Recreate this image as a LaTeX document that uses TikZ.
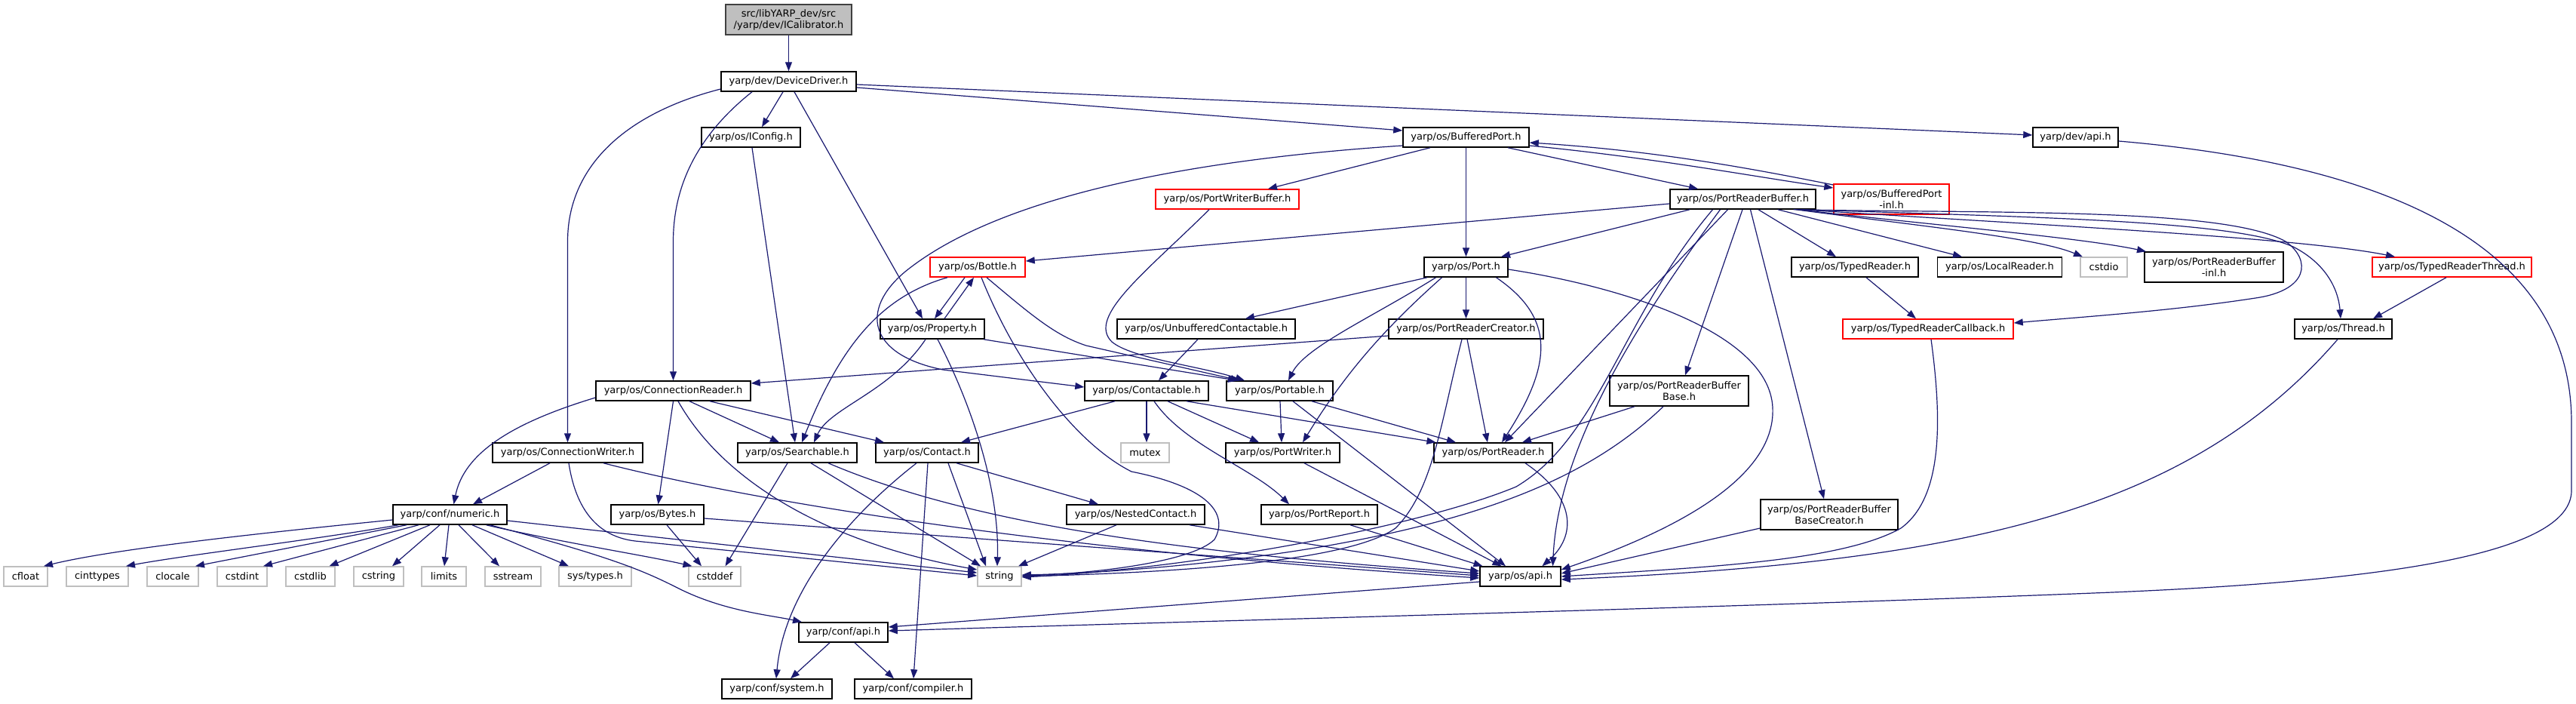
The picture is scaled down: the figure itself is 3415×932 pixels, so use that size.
\documentclass[tikz,border=0pt]{standalone}
\usepackage{fontspec}
\newfontfamily\dejavu{DejaVu Sans}
\usetikzlibrary{arrows.meta}
\definecolor{edgeblue}{HTML}{191970}
\definecolor{sysgray}{HTML}{BFBFBF}
\definecolor{rootgray}{HTML}{BFBFBF}
\newcommand\nodefont{\dejavu\fontsize{13}{15}\selectfont}
\tikzset{
  nb/.style={draw=black, fill=white, line width=1.5pt, inner sep=0pt, align=center, font=\nodefont, minimum height=26pt},
  nbred/.style={nb, draw=red},
  nbsys/.style={nb, draw=sysgray},
  nbroot/.style={nb, fill=rootgray, draw=black!75},
  e/.style={draw=edgeblue, line width=1.2pt, -{Triangle[length=12pt,width=9pt]}},
}
\begin{document}
\begin{tikzpicture}[x=1pt,y=-1pt]
\useasboundingbox[fill=white] (0,0) rectangle (3415,932);
% nodes
\node[nbroot, minimum width=167pt, minimum height=40pt] (icalib) at (1045.5,26) {src/libYARP\_dev/src\\/yarp/dev/ICalibrator.h};
\node[nb, minimum width=179pt] (devdrv) at (1045.5,108) {yarp/dev/DeviceDriver.h};
\node[nb, minimum width=131pt] (iconfig) at (995.5,182) {yarp/os/IConfig.h};
\node[nb, minimum width=167pt] (bport) at (1943.5,182) {yarp/os/BufferedPort.h};
\node[nb, minimum width=113pt] (devapi) at (2751.5,182) {yarp/dev/api.h};
\node[nbred, minimum width=190pt] (pwbuf) at (1627,264) {yarp/os/PortWriterBuffer.h};
\node[nb, minimum width=193pt] (prbuf) at (2310.5,264) {yarp/os/PortReaderBuffer.h};
\node[nbred, minimum width=153pt, minimum height=40pt] (bpinl) at (2507.5,264) {yarp/os/BufferedPort\\-inl.h};
\node[nbred, minimum width=126pt] (bottle) at (1296,354) {yarp/os/Bottle.h};
\node[nb, minimum width=111pt] (port) at (1943.5,354) {yarp/os/Port.h};
\node[nb, minimum width=168pt] (treader) at (2459,354) {yarp/os/TypedReader.h};
\node[nb, minimum width=165pt] (lreader) at (2651,354) {yarp/os/LocalReader.h};
\node[nbsys, minimum width=62pt] (cstdio) at (2789,354) {cstdio};
\node[nb, minimum width=184pt, minimum height=40pt] (prbinl) at (2935,354) {yarp/os/PortReaderBuffer\\-inl.h};
\node[nbred, minimum width=211pt] (trthread) at (3250.5,354) {yarp/os/TypedReaderThread.h};
\node[nb, minimum width=138pt] (property) at (1236,436) {yarp/os/Property.h};
\node[nb, minimum width=236pt] (unbuf) at (1599,436) {yarp/os/UnbufferedContactable.h};
\node[nb, minimum width=205pt] (prcreator) at (1943.5,436) {yarp/os/PortReaderCreator.h};
\node[nbred, minimum width=226pt] (trcallback) at (2556,436) {yarp/os/TypedReaderCallback.h};
\node[nb, minimum width=129pt] (thread) at (3106.5,436) {yarp/os/Thread.h};
\node[nb, minimum width=205pt] (connreader) at (892.5,518) {yarp/os/ConnectionReader.h};
\node[nb, minimum width=164pt] (contactable) at (1520,518) {yarp/os/Contactable.h};
\node[nb, minimum width=141pt] (portable) at (1696.5,518) {yarp/os/Portable.h};
\node[nb, minimum width=184pt, minimum height=40pt] (prbbase) at (2226,518) {yarp/os/PortReaderBuffer\\Base.h};
\node[nb, minimum width=199pt] (connwriter) at (752.5,600) {yarp/os/ConnectionWriter.h};
\node[nb, minimum width=158pt] (searchable) at (1057,600) {yarp/os/Searchable.h};
\node[nb, minimum width=136pt] (contact) at (1229,600) {yarp/os/Contact.h};
\node[nbsys, minimum width=64pt] (mutex) at (1518,600) {mutex};
\node[nb, minimum width=151pt] (portwriter) at (1700.5,600) {yarp/os/PortWriter.h};
\node[nb, minimum width=157pt] (portreader) at (1979.5,600) {yarp/os/PortReader.h};
\node[nb, minimum width=151pt] (numeric) at (596.5,682) {yarp/conf/numeric.h};
\node[nb, minimum width=123pt] (bytes) at (871.5,682) {yarp/os/Bytes.h};
\node[nb, minimum width=183pt] (nested) at (1505.5,682) {yarp/os/NestedContact.h};
\node[nb, minimum width=154pt] (portreport) at (1749,682) {yarp/os/PortReport.h};
\node[nb, minimum width=182pt, minimum height=40pt] (prbbcreator) at (2425,682) {yarp/os/PortReaderBuffer\\BaseCreator.h};
\node[nbsys, minimum width=58pt] (cfloat) at (34,764) {cfloat};
\node[nbsys, minimum width=82pt] (cinttypes) at (129,764) {cinttypes};
\node[nbsys, minimum width=68pt] (clocale) at (229,764) {clocale};
\node[nbsys, minimum width=66pt] (cstdint) at (321,764) {cstdint};
\node[nbsys, minimum width=65pt] (cstdlib) at (411.5,764) {cstdlib};
\node[nbsys, minimum width=66pt] (cstring) at (502,764) {cstring};
\node[nbsys, minimum width=59pt] (limits) at (588.5,764) {limits};
\node[nbsys, minimum width=74pt] (sstream) at (680,764) {sstream};
\node[nbsys, minimum width=96pt] (systypes) at (789,764) {sys/types.h};
\node[nbsys, minimum width=69pt] (cstddef) at (947.5,764) {cstddef};
\node[nbsys, minimum width=58pt] (string) at (1325,764) {string};
\node[nb, minimum width=107pt] (osapi) at (2015.5,764) {yarp/os/api.h};
\node[nb, minimum width=118pt] (confapi) at (1118,838) {yarp/conf/api.h};
\node[nb, minimum width=146pt] (confsystem) at (1030,913) {yarp/conf/system.h};
\node[nb, minimum width=155pt] (confcompiler) at (1210.5,913) {yarp/conf/compiler.h};
% edges
\draw[e] (icalib.south) -- (devdrv.north);
\draw[e] ([xshift=-7.5pt]devdrv.south) -- ([xshift=14.5pt]iconfig.north);
\draw[e] ([yshift=-8pt]devdrv.east) -- ([yshift=9pt]bport.west);
\draw[e] ([yshift=-4pt]devdrv.east) -- ([yshift=3pt]devapi.west);
\draw[e] ([yshift=-10pt]devdrv.west) .. controls (830,150) and (752.5,220) .. (752.5,320) -- (connwriter.north);
\draw[e] ([xshift=-48.5pt]devdrv.south) .. controls (930,175) and (892.5,240) .. (892.5,320) -- (connreader.north);
\draw[e] ([xshift=7.5pt]devdrv.south) -- ([xshift=-13pt]property.north);
\draw[e] ([xshift=1.5pt]iconfig.south) -- ([xshift=-3pt]searchable.north);
\draw[e] ([xshift=-47.5pt]bport.south) -- ([xshift=54pt]pwbuf.north);
\draw[e] (bport.south) -- (port.north);
\draw[e] ([xshift=55.5pt]bport.south) -- ([xshift=-59.5pt]prbuf.north);
\draw[e] ([yshift=-11pt]bport.east) .. controls (2200,210) and (2330,235) .. ([yshift=15pt]bpinl.west);
\draw[e] ([yshift=19pt]bpinl.west) .. controls (2330,225) and (2200,200) .. ([yshift=-7pt]bport.east);
\draw[e] ([yshift=-11pt]bport.west) .. controls (1600,210) and (1330,255) .. (1200,360) .. controls (1140,410) and (1150,470) .. (1250,490) -- ([yshift=5pt]contactable.west);
\draw[e] ([xshift=-24pt]pwbuf.south) .. controls (1520,360) and (1440,420) .. (1474,453) .. controls (1500,475) and (1590,485) .. ([xshift=-46.5pt]portable.north);
\draw[e] ([yshift=-6pt]prbuf.west) -- ([yshift=8pt]bottle.east);
\draw[e] ([xshift=-70.5pt]prbuf.south) -- ([xshift=46.5pt]port.north);
\draw[e] ([xshift=20.5pt]prbuf.south) -- ([xshift=-25pt]treader.north);
\draw[e] ([xshift=46.5pt]prbuf.south) -- ([xshift=-50pt]lreader.north);
\draw[e] ([xshift=70pt]prbuf.south) .. controls (2550,300) and (2700,315) .. ([xshift=-28pt]cstdio.north);
\draw[e] ([xshift=73pt]prbuf.south) .. controls (2560,298) and (2760,315) .. ([xshift=-90pt]prbinl.north);
\draw[e] ([xshift=76pt]prbuf.south) .. controls (2700,298) and (3050,315) .. ([xshift=-75.5pt]trthread.north);
\draw[e] ([xshift=67pt]prbuf.south) .. controls (2650,283) and (2950,275) .. (3030,320) .. controls (3065,345) and (3060,385) .. (2990,395) .. controls (2880,412) and (2760,420) .. ([yshift=8pt]trcallback.east);
\draw[e] ([xshift=78pt]prbuf.south) .. controls (2700,288) and (2960,292) .. (3040,327) .. controls (3085,350) and (3100,385) .. ([xshift=-3.5pt]thread.north);
\draw[e] ([xshift=-0.5pt]prbuf.south) -- ([xshift=8pt]prbbase.north);
\draw[e] ([xshift=10pt]prbuf.south) -- ([xshift=-7pt]prbbcreator.north);
\draw[e] ([xshift=-20pt]prbuf.south) -- ([xshift=15.5pt]portreader.north);
\draw[e] ([xshift=-40pt]prbuf.south) .. controls (2150,420) and (2120,580) .. (2010,645) .. controls (1890,695) and (1600,752) .. ([yshift=-1pt]string.east);
\draw[e] ([xshift=-30pt]prbuf.south) .. controls (2160,440) and (2065,600) .. ([xshift=43pt]osapi.north);
\draw[e] ([xshift=-17pt]bottle.south) -- ([xshift=3pt]property.north);
\draw[e] ([xshift=16pt]property.north) -- ([xshift=-5pt]bottle.south);
\draw[e] ([xshift=-40pt]bottle.south) .. controls (1160,395) and (1110,470) .. ([xshift=6pt]searchable.north);
\draw[e] ([xshift=12pt]bottle.south) .. controls (1370,420) and (1400,445) .. (1440,458) -- ([xshift=-53pt]portable.north);
\draw[e] ([xshift=5pt]bottle.south) .. controls (1350,490) and (1430,590) .. (1500,625) .. controls (1600,645) and (1630,680) .. (1610,715) .. controls (1580,745) and (1450,760) .. ([yshift=1pt]string.east);
\draw[e] ([xshift=-9pt]property.south) .. controls (1180,520) and (1100,540) .. ([xshift=22pt]searchable.north);
\draw[e] ([xshift=68pt]property.south) -- ([xshift=-56.5pt]portable.north);
\draw[e] ([xshift=7pt]property.south) .. controls (1290,540) and (1325,650) .. ([xshift=-3pt]string.north);
\draw[e] ([xshift=-51.5pt]port.south) -- ([xshift=52pt]unbuf.north);
\draw[e] (port.south) -- (prcreator.north);
\draw[e] ([xshift=-40pt]port.south) .. controls (1820,420) and (1730,460) .. ([xshift=11.5pt]portable.north);
\draw[e] ([xshift=-32pt]port.south) .. controls (1830,440) and (1780,500) .. ([xshift=26.5pt]portwriter.north);
\draw[e] ([xshift=40pt]port.south) .. controls (2060,420) and (2060,480) .. ([xshift=11.5pt]portreader.north);
\draw[e] ([yshift=-3pt]port.east) .. controls (2150,380) and (2345,440) .. (2350,540) .. controls (2355,640) and (2200,710) .. ([yshift=9pt]osapi.east);
\draw[e] ([xshift=-11pt]unbuf.south) -- ([xshift=16pt]contactable.north);
\draw[e] ([yshift=-9pt]prcreator.west) -- ([yshift=10pt]connreader.east);
\draw[e] ([xshift=1.5pt]prcreator.south) -- ([xshift=-7.5pt]portreader.north);
\draw[e] ([xshift=-5.5pt]prcreator.south) .. controls (1910,560) and (1900,650) .. (1850,700) .. controls (1780,750) and (1500,760) .. (string.east);
\draw[e] ([xshift=15pt]treader.south) -- ([xshift=-16pt]trcallback.north);
\draw[e] ([xshift=-7.5pt]trthread.south) -- ([xshift=39.5pt]thread.north);
\draw[e] ([xshift=-42pt]contactable.south) -- ([xshift=45pt]contact.north);
\draw[e] (contactable.south) -- ([xshift=2pt]mutex.north);
\draw[e] ([xshift=28pt]contactable.south) -- ([xshift=-31.5pt]portwriter.north);
\draw[e] ([xshift=53pt]contactable.south) -- ([xshift=-76pt]portreader.north);
\draw[e] ([xshift=10pt]contactable.south) .. controls (1570,590) and (1660,620) .. ([xshift=-40pt]portreport.north);
\draw[e] ([xshift=0.5pt]portable.south) -- ([xshift=-1.5pt]portwriter.north);
\draw[e] ([xshift=42.5pt]portable.south) -- ([xshift=-49.5pt]portreader.north);
\draw[e] ([xshift=17.5pt]portable.south) -- ([xshift=-19.5pt]osapi.north);
\draw[e] ([xshift=28.5pt]portwriter.south) -- ([xshift=-25pt]osapi.north);
\draw[e] ([xshift=42.5pt]portreader.south) .. controls (2090,660) and (2090,710) .. ([xshift=29pt]osapi.north);
\draw[e] ([xshift=41pt]portreport.south) -- ([xshift=-50pt]osapi.north);
\draw[e] ([xshift=71.5pt]nested.south) -- ([yshift=7pt]osapi.west);
\draw[e] ([xshift=-25.5pt]nested.south) -- ([xshift=25pt]string.north);
\draw[e] ([xshift=-59pt]prbbase.south) -- ([xshift=38.5pt]portreader.north);
\draw[e] ([xshift=-21pt]prbbase.south) .. controls (2100,640) and (1950,690) .. (1750,725) .. controls (1600,750) and (1450,760) .. ([yshift=2pt]string.east);
\draw[e] ([yshift=-18pt]prbbcreator.west) -- ([yshift=4pt]osapi.east);
\draw[e] ([xshift=4pt]trcallback.south) .. controls (2575,560) and (2575,660) .. (2520,700) .. controls (2440,745) and (2250,752) .. (osapi.east);
\draw[e] ([xshift=-7.5pt]thread.south) .. controls (2900,680) and (2600,745) .. ([yshift=-4pt]osapi.east);
\draw[e] ([yshift=-5pt]devapi.east) .. controls (3250,225) and (3409,370) .. (3409,560) -- (3409,650) .. controls (3409,735) and (3160,770) .. (2800,785) .. controls (2300,805) and (1700,820) .. ([yshift=2pt]confapi.east);
\draw[e] ([yshift=-7pt]osapi.west) -- ([yshift=7pt]confapi.east);
\draw[e] ([xshift=-18pt]confapi.south) -- ([xshift=18pt]confsystem.north);
\draw[e] ([xshift=15pt]confapi.south) -- ([xshift=-25.5pt]confcompiler.north);
\draw[e] ([yshift=-7pt]numeric.west) .. controls (330,708) and (150,728) .. ([xshift=24pt]cfloat.north);
\draw[e] ([xshift=-68.5pt]numeric.south) .. controls (420,715) and (250,735) .. ([xshift=38pt]cinttypes.north);
\draw[e] ([xshift=-57.5pt]numeric.south) -- ([xshift=30pt]clocale.north);
\draw[e] ([xshift=-41.5pt]numeric.south) -- ([xshift=28pt]cstdint.north);
\draw[e] ([xshift=-26.5pt]numeric.south) -- ([xshift=25pt]cstdlib.north);
\draw[e] ([xshift=-13.5pt]numeric.south) -- ([xshift=18pt]cstring.north);
\draw[e] ([xshift=-1.5pt]numeric.south) -- ([xshift=0.5pt]limits.north);
\draw[e] ([xshift=11.5pt]numeric.south) -- ([xshift=-18pt]sstream.north);
\draw[e] ([xshift=29.5pt]numeric.south) -- ([xshift=-35pt]systypes.north);
\draw[e] ([xshift=48pt]numeric.south) .. controls (750,720) and (850,735) .. ([xshift=-30pt]cstddef.north);
\draw[e] ([xshift=53pt]numeric.south) .. controls (820,740) and (860,760) .. (900,780) .. controls (960,810) and (1020,815) .. ([xshift=-55pt]confapi.north);
\draw[e] ([yshift=-8pt]numeric.east) -- ([yshift=5pt]string.west);
\draw[e] ([yshift=-9pt]connreader.west) .. controls (680,560) and (615,600) .. ([xshift=5pt]numeric.north);
\draw[e] (connreader.south) -- ([xshift=1pt]bytes.north);
\draw[e] ([xshift=21.5pt]connreader.south) -- ([xshift=-24pt]searchable.north);
\draw[e] ([xshift=48.5pt]connreader.south) -- ([xshift=-57pt]contact.north);
\draw[e] ([xshift=6.5pt]connreader.south) .. controls (960,640) and (1100,720) .. ([yshift=9pt]string.west);
\draw[e] ([xshift=-23.5pt]connwriter.south) -- ([xshift=30.5pt]numeric.north);
\draw[e] ([xshift=1.5pt]connwriter.south) .. controls (765,685) and (800,712) .. (842,717) -- ([yshift=1pt]string.west);
\draw[e] ([xshift=47.5pt]connwriter.south) .. controls (1000,665) and (1400,730) .. ([yshift=-2pt]osapi.west);
\draw[e] ([yshift=-5pt]bytes.east) -- ([yshift=1pt]osapi.west);
\draw[e] ([xshift=12.5pt]bytes.south) -- ([xshift=-17.5pt]cstddef.north);
\draw[e] ([xshift=-13pt]searchable.south) -- ([xshift=14pt]cstddef.north);
\draw[e] ([xshift=18pt]searchable.south) -- ([xshift=-25pt]string.north);
\draw[e] ([xshift=41pt]searchable.south) .. controls (1300,700) and (1600,735) .. ([yshift=4pt]osapi.west);
\draw[e] ([xshift=-14pt]contact.south) .. controls (1130,680) and (1040,780) .. ([xshift=-1pt]confsystem.north);
\draw[e] ([xshift=1pt]contact.south) -- ([xshift=0.5pt]confcompiler.north);
\draw[e] ([xshift=28pt]contact.south) -- ([xshift=-18pt]string.north);
\draw[e] ([xshift=39pt]contact.south) -- ([xshift=-49.5pt]nested.north);
\end{tikzpicture}
\end{document}
